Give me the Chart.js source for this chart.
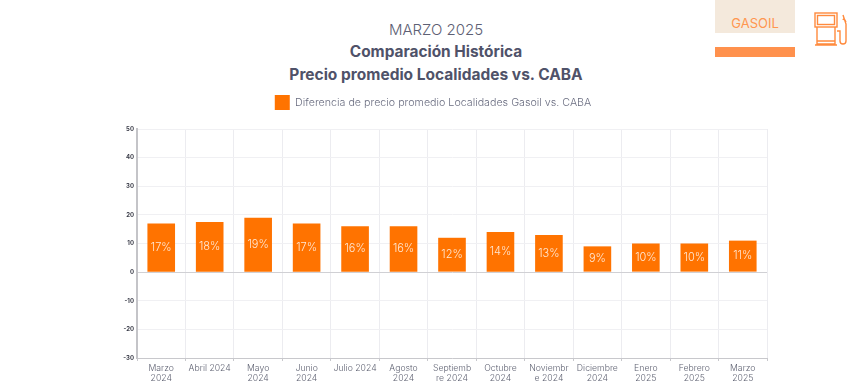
<!DOCTYPE html>
<html>
<head>
<meta charset="utf-8">
<script src="https://cdn.jsdelivr.net/npm/chart.js@4"></script>
<style>
  html, body { margin: 0; background: #fff; width: 850px; height: 391px; overflow: hidden; }
  body { position: relative; font-family: Inter, sans-serif; color: #4f5269; }
  .line { position: absolute; left: 236px; width: 400px; text-align: center; white-space: nowrap; }
  #chartBox { position: absolute; left: 99px; top: 79px; width: 751px; height: 312px; }
  #tag { position: absolute; left: 715px; top: 0; width: 80px; height: 33px; background: #f4e9dc; color: #ff9650; font-size: 13px; line-height: 46px; text-align: center; }
  #tagBar { position: absolute; left: 715px; top: 47px; width: 80px; height: 10px; background: #ff914d; }
  #pump { position: absolute; left: 813px; top: 11px; }
</style>
</head>
<body>
<div class="line" style="top:20px;font-size:15px;font-weight:300;color:#5d6074">MARZO 2025</div>
<div class="line" style="top:42px;font-size:15.400px;font-weight:700">Comparación Histórica</div>
<div class="line" style="top:65px;font-size:15.500px;font-weight:700">Precio promedio Localidades vs. CABA</div>
<div id="tag">GASOIL</div>
<div id="tagBar"></div>
<svg id="pump" width="36" height="36" viewBox="0 0 36 36" fill="none" stroke="#ff8a3d" stroke-width="1.4">
  <rect x="2" y="2" width="22" height="14"/>
  <rect x="4.500" y="4.500" width="17" height="9"/>
  <path d="M4 16V33H22V16M4 30H22M2 34H24M24 20H27V30Q27 33 30 33T33 30V13L30 4M30 9Q31 6 33 11"/>
</svg>
<div id="chartBox"><canvas id="chart"></canvas></div>
<script>
const categories = [['Marzo', '2024'], 'Abril 2024', ['Mayo', '2024'], ['Junio', '2024'], 'Julio 2024', ['Agosto', '2024'],
    ['Septiemb', 're 2024'], ['Octubre', '2024'], ['Noviembr', 'e 2024'], ['Diciembre', '2024'], ['Enero', '2025'], ['Febrero', '2025'], ['Marzo', '2025']];
const diferencia = [17, 17.5, 19, 17, 16, 16, 12, 14, 13, 9, 10, 10, 11];
const etiquetas = ['17%', '18%', '19%', '17%', '16%', '16%', '12%', '14%', '13%', '9%', '10%', '10%', '11%'];

// no datalabels plugin here, so write the % in the middle of each bar
const barLabels = {
    id: 'barLabels',
    afterDatasetsDraw(chart) {
        const ctx = chart.ctx;
        const meta = chart.getDatasetMeta(0);
        ctx.save();
        ctx.fillStyle = '#ffe9d6';
        ctx.font = '300 11px Inter';
        ctx.textAlign = 'center';
        ctx.textBaseline = 'middle';
        meta.data.forEach((bar, i) => {
            ctx.fillText(etiquetas[i], bar.x, (bar.y + bar.base) / 2);
        });
        ctx.restore();
    }
};

// extra gap between legend and plot
const legendGap = {
    id: 'legendGap',
    beforeInit(chart) {
        const fit = chart.legend.fit;
        chart.legend.fit = function () {
            fit.call(this);
            this.height += 9;
        };
    }
};

new Chart(document.getElementById('chart'), {
    type: 'bar',
    data: {
        labels: categories,
        datasets: [{
            label: 'Diferencia de precio promedio Localidades Gasoil vs. CABA',
            data: diferencia,
            backgroundColor: '#ff7300',
            categoryPercentage: 1,
            barPercentage: 0.57
        }]
    },
    options: {
        responsive: true,
        maintainAspectRatio: false,
        animation: false,
        layout: { padding: { left: 0, right: 83, bottom: 0, top: 0 } },
        plugins: {
            legend: {
                position: 'top',
                labels: { boxWidth: 15, boxHeight: 15, padding: 16, color: '#6a6d80', font: { family: 'Inter', size: 10.700, weight: '300' } }
            },
            tooltip: { enabled: false }
        },
        scales: {
            x: {
                afterFit(scale) { scale.height = 33; },
                grid: {
                    color: '#ececf0',
                    tickColor: '#c8c8cc',
                    tickLength: 3,
                    offset: true
                },
                border: { color: '#c8c8cc', width: 1 },
                ticks: {
                    autoSkip: false,
                    maxRotation: 0,
                    padding: 2,
                    color: '#5f6272',
                    font: { family: 'Inter', size: 8.700, weight: '300', lineHeight: 1.15 }
                }
            },
            y: {
                min: -30,
                max: 50,
                afterFit(scale) { scale.width = 38; },
                grid: {
                    color: (c) => c.tick.value === 0 ? '#d0d0d4' : '#f0f0f3',
                    drawTicks: false
                },
                border: { color: '#c4c4c8', width: 2 },
                ticks: {
                    stepSize: 10,
                    padding: 3,
                    color: '#3a3c48',
                    font: { family: 'Inter', size: 6, weight: '700' }
                }
            }
        }
    },
    plugins: [barLabels, legendGap]
});
</script>
</body>
</html>
